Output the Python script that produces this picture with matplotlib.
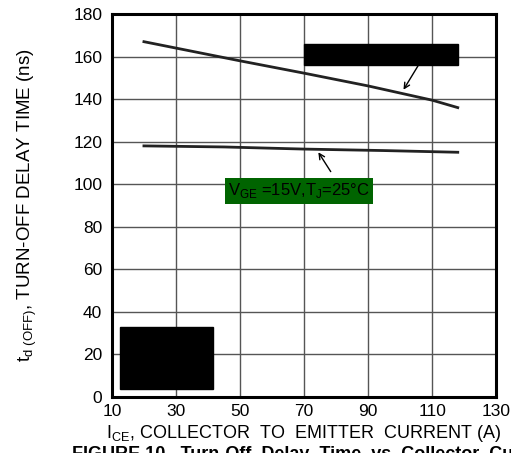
import matplotlib.pyplot as plt
from matplotlib.patches import Rectangle

plt.rcParams['font.family'] = ['Liberation Sans', 'DejaVu Sans']

ice_hi = [20, 50, 70, 90, 110, 118]
td_hi = [167, 158, 152.2, 146.2, 139.5, 136]
ice_lo = [20, 45, 70, 95, 118]
td_lo = [118, 117.5, 116.5, 115.8, 115]
xticks = [10, 30, 50, 70, 90, 110, 130]
yticks = [0, 20, 40, 60, 80, 100, 120, 140, 160, 180]

fig = plt.figure(figsize=(5.11, 4.53), dpi=100)
ax = fig.add_axes([0.219, 0.124, 0.752, 0.845])

ax.plot(ice_hi, td_hi, color='#222222', lw=2)
ax.plot(ice_lo, td_lo, color='#222222', lw=2)

ax.set_xlim(10, 130)
ax.set_ylim(0, 180)
ax.set_xticks(xticks)
ax.set_yticks(yticks)
ax.grid(True, color='#555555', lw=1)
ax.tick_params(length=0, labelsize=12.5)
ax.tick_params(axis='x', pad=5)
ax.tick_params(axis='y', pad=7)
for s in ax.spines.values():
    s.set_linewidth(2.2)

# redaction boxes
ax.add_patch(Rectangle((70, 156), 48, 10, color='black', zorder=5))
ax.add_patch(Rectangle((12.5, 3.5), 29, 29.5, color='black', zorder=5))

ax.annotate('', xy=(100.6, 143.3), xytext=(106.3, 157.4),
            arrowprops=dict(arrowstyle='->', color='black', lw=1), zorder=6)
ax.annotate('', xy=(74, 116.1), xytext=(78.8, 104.8),
            arrowprops=dict(arrowstyle='->', color='black', lw=1), zorder=6)

ax.text(46.3, 96.8, r'V$_{\mathregular{GE}}$ =15V,T$_{\mathregular{J}}$=25°C',
        fontsize=12, va='center', ha='left', zorder=6,
        bbox=dict(boxstyle='square,pad=0.2', fc='#006400', ec='none'))

ax.set_xlabel(r'I$_{\mathregular{CE}}$, COLLECTOR  TO  EMITTER  CURRENT (A)', fontsize=13, labelpad=3)
ax.set_ylabel(r't$_{\mathregular{d\ (OFF)}}$, TURN-OFF DELAY TIME (ns)', fontsize=13.5)
ax.yaxis.set_label_coords(-0.19, 0.5)

fig.text(72 / 511, 1 - 446 / 453, 'FIGURE 10.  Turn-Off  Delay  Time  vs  Collector  Current',
         fontsize=13, fontweight='bold', va='top')

fig.savefig('out.png', dpi=100)
